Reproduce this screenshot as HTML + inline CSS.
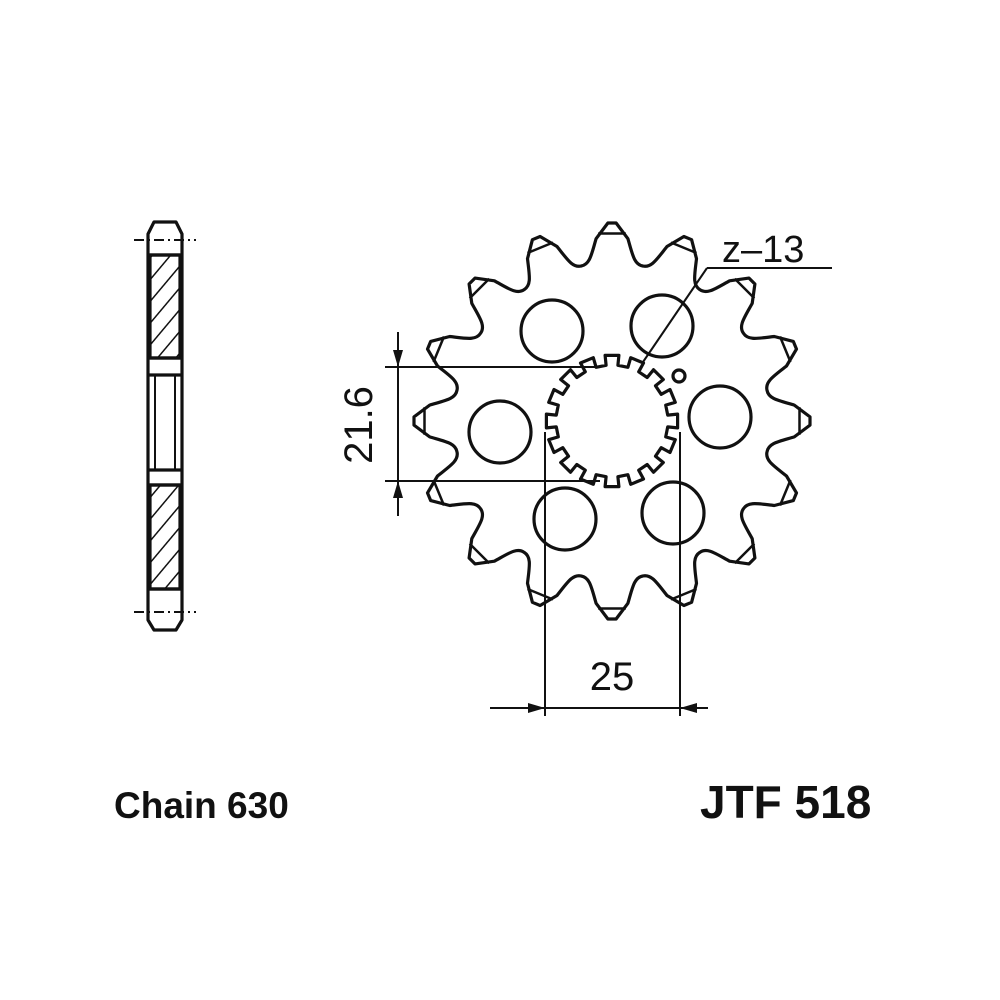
<!DOCTYPE html>
<html><head><meta charset="utf-8"><style>
html,body{margin:0;padding:0;background:#fff;}
svg{display:block}
text{font-family:"Liberation Sans",sans-serif;fill:#111}
</style></head><body>
<svg id="s" width="1000" height="1000" viewBox="0 0 1000 1000" xmlns="http://www.w3.org/2000/svg">
<defs>
<pattern id="h" width="14" height="14" patternUnits="userSpaceOnUse" patternTransform="rotate(40)">
<line x1="0" y1="0" x2="0" y2="14" stroke="#111" stroke-width="3"/>
</pattern>
</defs>
<g fill="none" stroke="#111" stroke-width="3.2" stroke-linejoin="round">
<path d="M154 222 L176 222 L182 234 L182 620 L176 630 L154 630 L148 620 L148 234 Z"/>
<rect x="150" y="255" width="30" height="103" fill="url(#h)"/>
<rect x="150" y="485" width="30" height="104" fill="url(#h)"/>
<line x1="148" y1="255" x2="182" y2="255"/>
<line x1="148" y1="358" x2="182" y2="358"/>
<line x1="148" y1="375" x2="182" y2="375"/>
<line x1="148" y1="470" x2="182" y2="470"/>
<line x1="148" y1="485" x2="182" y2="485"/>
<line x1="148" y1="589" x2="182" y2="589"/>
<line x1="155" y1="375" x2="155" y2="470" stroke-width="2"/>
<line x1="175" y1="375" x2="175" y2="470" stroke-width="2"/>
<line x1="134" y1="240" x2="196" y2="240" stroke-width="2" stroke-dasharray="10 4 2 4"/>
<line x1="134" y1="612" x2="196" y2="612" stroke-width="2" stroke-dasharray="10 4 2 4"/>
<path id="gear"/>
<path id="tips" stroke-width="2.5"/>
<path id="spl"/>
<circle cx="552" cy="331" r="31"/>
<circle cx="662" cy="326" r="31"/>
<circle cx="500" cy="432" r="31"/>
<circle cx="720" cy="417" r="31"/>
<circle cx="565" cy="519" r="31"/>
<circle cx="673" cy="513" r="31"/>
<circle cx="679" cy="376" r="6"/>
<g stroke-width="2">
<line x1="385" y1="367" x2="600" y2="367"/>
<line x1="385" y1="481" x2="600" y2="481"/>
<line x1="398" y1="332" x2="398" y2="516"/>
<line x1="545" y1="432" x2="545" y2="716"/>
<line x1="680" y1="432" x2="680" y2="716"/>
<line x1="490" y1="708" x2="708" y2="708"/>
<line x1="707" y1="268" x2="832" y2="268"/>
<line x1="707" y1="268" x2="643" y2="362"/>
</g>
</g>
<g fill="#111">
<path d="M398 367 L393 350 L403 350 Z"/>
<path d="M398 481 L393 498 L403 498 Z"/>
<path d="M545 708 L528 703 L528 713 Z"/>
<path d="M680 708 L697 703 L697 713 Z"/>
</g>
<text x="0" y="0" font-size="40" transform="translate(372,425) rotate(-90)" text-anchor="middle">21.6</text>
<text x="612" y="690" font-size="40" text-anchor="middle">25</text>
<text x="722" y="262" font-size="38">z–13</text>
<text x="114" y="818" font-size="37" font-weight="bold">Chain 630</text>
<text x="700" y="818" font-size="46" font-weight="bold">JTF 518</text>
</svg>
<script>
var cx=612,cy=421,R=Math.PI/180;
function p(a,r){return (cx+r*Math.cos(a*R)).toFixed(1)+' '+(cy+r*Math.sin(a*R)).toFixed(1);}
var d='',t='';
for(var i=0;i<16;i++){
 var a=-90+i*22.5;
 d+=(i?'L':'M')+p(a-1.2,198)+' L'+p(a+1.2,198)+' L'+p(a+5,183)+' C'+p(a+7,168)+' '+p(a+8,158)+' '+p(a+11.25,158)+' C'+p(a+14.5,158)+' '+p(a+15.5,168)+' '+p(a+17.5,183)+' ';
 t+='M'+p(a-4.2,188)+' L'+p(a+4.2,188)+' ';
}
document.getElementById('gear').setAttribute('d',d+'Z');
document.getElementById('tips').setAttribute('d',t);
var s='';
for(var j=0;j<16;j++){
 var b=j*22.5;
 s+=(j?'L':'M')+p(b-6,66)+' L'+p(b+6,66)+' L'+p(b+6,56)+' L'+p(b+16.5,56)+' ';
}
document.getElementById('spl').setAttribute('d',s+'Z');
</script>
</body></html>
